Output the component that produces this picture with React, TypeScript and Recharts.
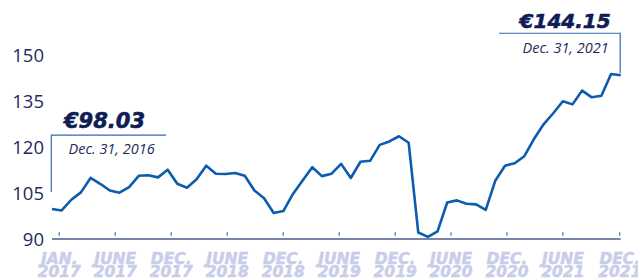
import React from 'react';
import { LineChart, Line, XAxis, YAxis, ReferenceDot } from 'recharts';

// Monthly share price (approx.), Dec 2016 -> Dec 2021
const prices: number[] = [
  99.8, 99.3, 102.8, 105.2, 109.9, 108.0, 105.8, 105.1, 106.9, 110.6,
  110.8, 110.1, 112.6, 108.0, 106.7, 109.5, 113.9, 111.3, 111.2, 111.5,
  110.6, 105.8, 103.3, 98.5, 99.1, 104.7, 109.1, 113.4, 110.5, 111.3,
  114.5, 109.9, 115.2, 115.5, 120.7, 121.8, 123.5, 121.4, 92.1, 90.7,
  92.5, 101.9, 102.6, 101.5, 101.3, 99.5, 109.1, 113.9, 114.7, 117.0,
  122.6, 127.4, 131.0, 134.9, 133.9, 138.4, 136.2, 136.7, 143.8, 143.4,
];

const yTicks: number[] = [90, 105, 120, 135, 150];

const xTickPositions: number[] = [0.75, 6.56, 12.37, 18.18, 23.99, 29.8, 35.6, 41.4, 47.2, 53.0, 58.9];
const xTickMonths: string[] = ['JAN.', 'JUNE', 'DEC.', 'JUNE', 'DEC.', 'JUNE', 'DEC.', 'JUNE', 'DEC.', 'JUNE', 'DEC.'];
const xTickYears: string[] = ['2017', '2017', '2017', '2018', '2018', '2019', '2019', '2020', '2020', '2021', '2021'];

const startLabel = { price: '€98.03', date: 'Dec. 31, 2016' };
const endLabel = { price: '€144.15', date: 'Dec. 31, 2021' };

const data = prices.map((v, i) => ({ i, v }));

const NAVY = '#101d55';
const LINE = '#0b5cad';
const ANN = '#2c6cb6';
const TICK_TEXT = '#c8cee9';

const XTick = (props: any) => {
  const { x, y, payload } = props;
  const idx = xTickPositions.indexOf(payload.value);
  if (idx < 0) return null;
  const common = {
    x,
    textAnchor: 'middle' as const,
    fontFamily: 'DejaVu Sans',
    fontWeight: 'bold',
    fontStyle: 'italic',
    fontSize: 15.5,
    fill: TICK_TEXT,
    stroke: TICK_TEXT,
    strokeWidth: 0.5,
  };
  return (
    <g>
      <line x1={x} x2={x} y1={y - 6.8} y2={y - 3.2} stroke="#4a7dc4" strokeWidth={1.3} />
      <text {...common} y={y + 25.3}>
        {xTickMonths[idx]}
      </text>
      <text {...common} y={y + 38.3}>
        {xTickYears[idx]}
      </text>
    </g>
  );
};

const StartAnnotation = (props: any) => {
  const { cx, cy } = props;
  const top = cy - 73.8;
  return (
    <g>
      <polyline
        points={`${cx - 0.7},${cy - 17} ${cx - 0.7},${top} ${cx + 114},${top}`}
        fill="none"
        stroke={ANN}
        strokeWidth={1.2}
      />
      <text
        x={cx + 12}
        y={top - 14.5}
        dy="0.36em"
        fontFamily="DejaVu Sans"
        fontWeight="bold"
        fontStyle="italic"
        fontSize={21}
        fill={NAVY}
        stroke={NAVY}
        strokeWidth={0.6}
      >
        {startLabel.price}
      </text>
      <text
        x={cx + 16.5}
        y={top + 13.5}
        dy="0.36em"
        fontFamily="Open Sans"
        fontStyle="italic"
        fontSize={14.5}
        fill="#1e2a5e"
      >
        {startLabel.date}
      </text>
    </g>
  );
};

const EndAnnotation = (props: any) => {
  const { cx, cy } = props;
  const top = cy - 42;
  return (
    <g>
      <polyline
        points={`${cx - 0.5},${cy - 2} ${cx - 0.5},${top} ${cx - 121.7},${top}`}
        fill="none"
        stroke={ANN}
        strokeWidth={1.2}
      />
      <text
        x={cx - 10}
        y={top - 12.6}
        dy="0.36em"
        textAnchor="end"
        fontFamily="DejaVu Sans"
        fontWeight="bold"
        fontStyle="italic"
        fontSize={20}
        fill={NAVY}
        stroke={NAVY}
        strokeWidth={0.6}
      >
        {endLabel.price}
      </text>
      <text
        x={cx - 12}
        y={top + 14.4}
        dy="0.36em"
        textAnchor="end"
        fontFamily="Open Sans"
        fontStyle="italic"
        fontSize={14.5}
        fill="#1e2a5e"
      >
        {endLabel.date}
      </text>
    </g>
  );
};

export default function App() {
  return (
    <div style={{ position: 'absolute', left: 0, top: 0, width: 638, height: 278, background: '#fff' }}>
      <LineChart width={638} height={278} data={data} margin={{ top: 55, right: 17.3, bottom: 0, left: 0 }}>
        <XAxis
          dataKey="i"
          type="number"
          domain={[0, 59]}
          ticks={xTickPositions}
          interval={0}
          height={39}
          tickLine={false}
          tickSize={0}
          tickMargin={0}
          axisLine={{ stroke: '#4f5d8f', strokeWidth: 1.7 }}
          tick={<XTick />}
        />
        <YAxis
          type="number"
          domain={[90, 150]}
          ticks={yTicks}
          width={52}
          axisLine={false}
          tickLine={false}
          tickSize={6}
          tickMargin={2}
          tick={{ fill: '#1f2a5c', fontSize: 18.5, fontFamily: 'Open Sans' }}
        />
        <Line
          type="linear"
          dataKey="v"
          stroke={LINE}
          strokeWidth={2.6}
          dot={false}
          isAnimationActive={false}
          strokeLinejoin="round"
        />
        <ReferenceDot x={0} y={prices[0]} ifOverflow="visible" shape={<StartAnnotation />} />
        <ReferenceDot x={59} y={prices[59]} ifOverflow="visible" shape={<EndAnnotation />} />
      </LineChart>
    </div>
  );
}
